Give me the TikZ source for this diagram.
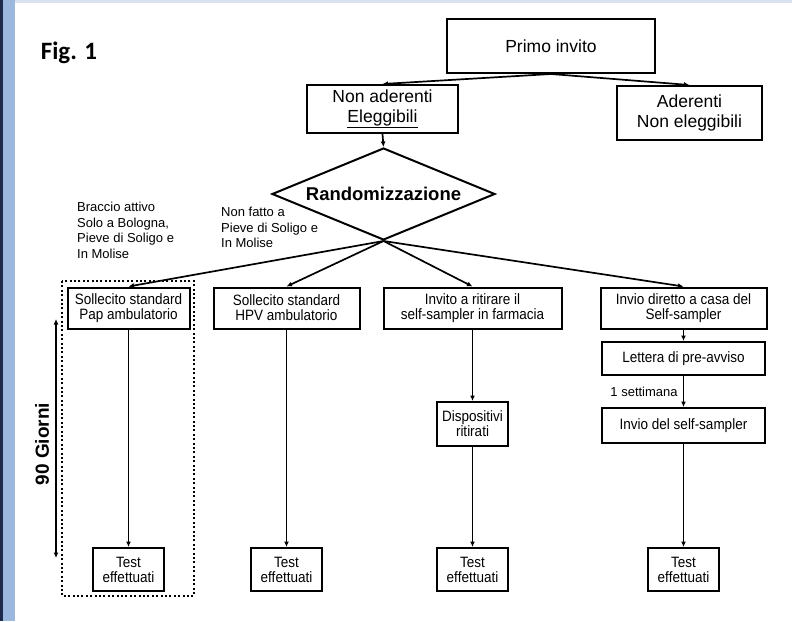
\documentclass[tikz,border=0pt]{standalone}
\usepackage{fontspec}
\setmainfont{Liberation Sans}
\newfontfamily\narrowfont[FakeStretch=0.9]{Liberation Sans}
\newfontfamily\figfont{Carlito}
\usepackage{tikz}
\usetikzlibrary{
  arrows.meta,
  shapes.geometric,
  positioning
}
\definecolor{stripblue}{HTML}{9DB8DE}
\definecolor{stripnavy}{HTML}{1E2A4A}
\definecolor{topstrip}{HTML}{D8E2F0}
\tikzset{>={Latex[length=5.5pt,width=5pt]}}
\tikzset{
  bigbox/.style={draw, line width=2pt, align=center, inner sep=0pt,
    font=\fontsize{17.5}{20}\selectfont},
  armbox/.style={draw, line width=2pt, align=center, inner sep=0pt,
    font=\narrowfont\fontsize{15}{15}\selectfont},
  testbox/.style={armbox, minimum width=71pt, minimum height=43pt},
  flow/.style={->, line width=1.7pt},
  note/.style={align=left, anchor=north west, inner sep=0pt,
    font=\fontsize{13}{15.5}\selectfont},
  armframe/.style={line width=2.2pt, dash pattern=on 2pt off 2.4pt}
}

\begin{document}
\begin{tikzpicture}[x=1pt, y=-1pt]
  \useasboundingbox (0,0) rectangle (792,621);
  % slide frame
  \fill[white] (0,0) rectangle (792,621);
  \fill[stripblue] (0,0) rectangle (15,621);
  \fill[stripnavy] (0,0) rectangle (2.5,621);
  \fill[topstrip] (15,0) rectangle (792,3);

  \node[font=\figfont\bfseries\fontsize{25}{25}\selectfont] (fig) at (69,53) {Fig. 1};

  \node[bigbox, minimum width=208pt, minimum height=54pt] (primo) at (551,46) {Primo invito};
  \node[bigbox, minimum width=151pt, minimum height=48pt] (nonad) at (382.5,109) {Non aderenti\\\underline{Eleggibili}};
  \node[bigbox, minimum width=145pt, minimum height=54pt] (ader) at (689.5,113) {Aderenti\\Non eleggibili};
  \node[diamond, draw, line width=2pt, aspect=2.4, inner sep=0pt,
    minimum width=223pt, minimum height=92pt,
    font=\bfseries\fontsize{18.5}{20}\selectfont] (rand) at (383.5,194) {Randomizzazione};

  \node[note] (braccio) at (77,202) {Braccio attivo\\Solo a Bologna,\\Pieve di Soligo e\\In Molise};
  \node[note] (nonfatto) at (221,207) {Non fatto a\\Pieve di Soligo e\\In Molise};

  % the four arms
  \node[armbox, minimum width=122pt, minimum height=41pt] (pap) at (128.5,308) {Sollecito standard\\Pap ambulatorio};
  \node[armbox, minimum width=146pt, minimum height=41pt] (hpv) at (286.5,308) {Sollecito standard\\HPV ambulatorio};
  \node[armbox, minimum width=178pt, minimum height=41pt] (farm) at (472.5,308) {Invito a ritirare il\\self-sampler in farmacia};
  \node[armbox, minimum width=166pt, minimum height=41pt] (casa) at (683.5,308) {Invio diretto a casa del\\Self-sampler};
  \node[armbox, minimum width=163pt, minimum height=33pt] (lettera) at (683.5,358.5) {Lettera di pre-avviso};
  \node[armbox, minimum width=163pt, minimum height=35pt] (invio) at (683.5,425.5) {Invio del self-sampler};
  \node[armbox, minimum width=71pt, minimum height=44pt] (disp) at (472.5,424) {Dispositivi\\ritirati};
  \foreach \name/\x in {pap/128.5, hpv/286.5, farm/472.5, casa/683.5}
    \node[testbox] (test-\name) at (\x,569.5) {Test\\effettuati};

  \draw[flow] (primo.south) -- (nonad.north);
  \draw[flow] (primo.south) -- (ader.north);
  \draw[flow] (nonad.south) -- (rand.north);
  \foreach \name in {pap, hpv, farm, casa}
    \draw[flow] (rand.south) -- (\name.north);

  \draw[flow] (pap) -- (test-pap);
  \draw[flow] (hpv) -- (test-hpv);
  \draw[flow] (farm) -- (disp);
  \draw[flow] (disp) -- (test-farm);
  \draw[flow] (casa) -- (lettera);
  \draw[flow] (lettera) -- node[left, inner sep=5pt, font=\fontsize{13}{13}\selectfont] (settimana) {1 settimana} (invio);
  \draw[flow] (invio) -- (test-casa);

  % active arm and its time span
  \draw[armframe] (62,281) rectangle (194,596);
  \coordinate (gtop) at (56,319);
  \coordinate (gbot) at (56,558);
  \draw[<->, line width=1.7pt] (gtop) -- (gbot);
  \node[rotate=90, font=\bfseries\fontsize{19}{19}\selectfont] (giorni) at (42,444) {90 Giorni};
\end{tikzpicture}
\end{document}
